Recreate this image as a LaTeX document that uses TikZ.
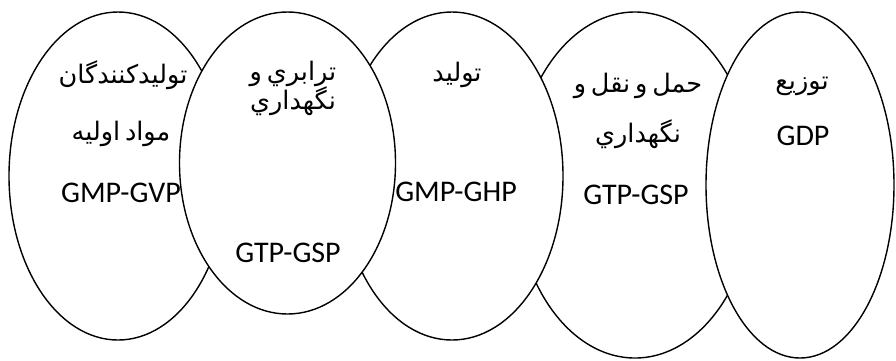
\documentclass[tikz,border=0pt]{standalone}
\usepackage{fontspec}
\setmainfont{Carlito}
\newfontfamily\arabicfont[Script=Arabic,WordSpace=0.6]{DejaVu Sans}
\TeXXeTstate=1
\usetikzlibrary{shapes.geometric}
\tikzset{
  stage/.style={ellipse, draw=black, line width=1.4pt, fill=white, inner sep=0pt},
  fa/.style={font=\arabicfont\fontsize{25.5}{29}\selectfont, inner sep=0pt, anchor=center},
  la/.style={font=\fontsize{30}{34}\selectfont, inner sep=0pt, anchor=center}
}
\newcommand{\rtl}[1]{\beginR #1\endR}
\begin{document}
\begin{tikzpicture}[x=1pt,y=-1pt]
  \useasboundingbox (0,0) rectangle (896,360);
  % five overlapping stages, drawn so that the right overlaps come out as shown
  \node[stage, minimum width=218pt, minimum height=328pt] (e1) at (118,176) {};
  \node[stage, minimum width=240pt, minimum height=346pt] (e4) at (635,185) {};
  \node[stage, minimum width=222pt, minimum height=328pt] (e3) at (452,176) {};
  \node[stage, minimum width=216pt, minimum height=302pt] (e2) at (287.5,163) {};
  \node[stage, minimum width=188pt, minimum height=346pt] (e5) at (800,185) {};

  % stage 1
  \node[fa] (t1a) at (123,75) {\rtl{توليدکنندگان}};
  \node[fa] (t1b) at (121,134) {\rtl{مواد اوليه}};
  \node[la] (t1c) at (121,193) {GMP-GVP};
  % stage 2
  \node[fa] (t2a) at (293,74) {\rtl{ترابري و}};
  \node[fa] (t2b) at (293,101) {\rtl{نگهداري}};
  \node[la] (t2c) at (288,253) {GTP-GSP};
  % stage 3
  \node[fa] (t3a) at (457,75) {\rtl{توليد}};
  \node[la] (t3c) at (456,192) {GMP-GHP};
  % stage 4
  \node[fa] (t4a) at (638,86) {\rtl{حمل و نقل و}};
  \node[fa] (t4b) at (638,134) {\rtl{نگهداري}};
  \node[la] (t4c) at (636,195) {GTP-GSP};
  % stage 5
  \node[fa] (t5a) at (802,86) {\rtl{توزيع}};
  \node[la] (t5c) at (803,136) {GDP};
\end{tikzpicture}
\end{document}
